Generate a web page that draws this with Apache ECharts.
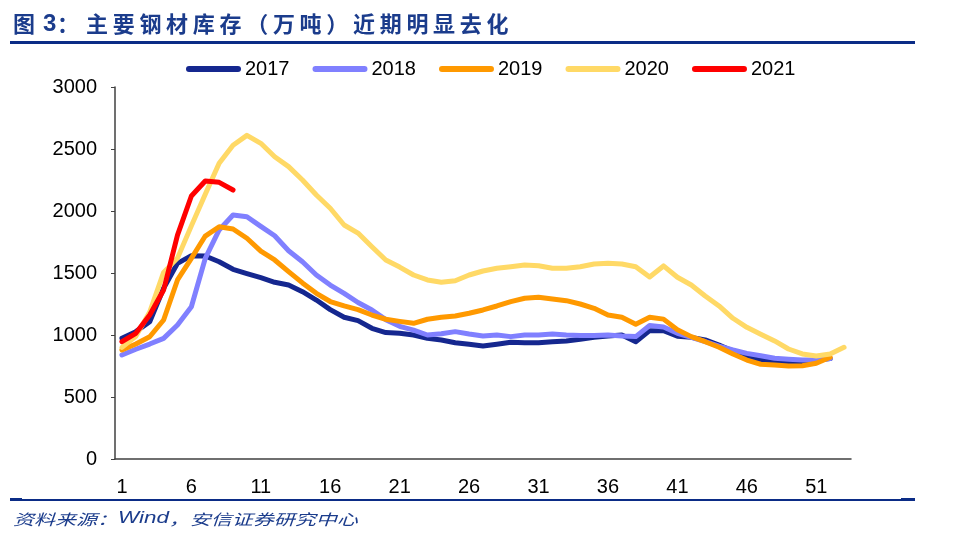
<!DOCTYPE html>
<html>
<head>
<meta charset="utf-8">
<script src="https://cdn.jsdelivr.net/npm/echarts@6/dist/echarts.min.js"></script>
<style>
html,body{margin:0;padding:0;background:#fff;}
#chart{width:956px;height:546px;}
</style>
</head>
<body>
<div id="chart"></div>
<script>
var weeks = [];
for (var w = 1; w <= 53; w++) weeks.push(String(w));

var y2017 = [973,1027,1107,1377,1578,1640,1637,1591,1530,1495,1462,1425,1403,1349,1282,1205,1143,1116,1054,1020,1014,1000,973,960,938,925,911,925,941,938,938,946,952,965,981,992,1000,946,1035,1035,990,981,960,919,871,825,798,785,780,785,798,810];
var y2018 = [839,885,927,973,1081,1228,1618,1847,1968,1954,1876,1800,1680,1591,1484,1403,1336,1262,1202,1124,1070,1040,1000,1010,1027,1008,992,1000,987,1000,1000,1008,1000,995,995,1000,992,987,1077,1064,1014,981,946,911,879,852,833,812,804,798,798,810];
var y2019 = [879,927,986,1121,1444,1618,1798,1873,1855,1780,1676,1605,1511,1420,1336,1270,1235,1205,1161,1127,1110,1094,1127,1143,1153,1175,1202,1234,1269,1296,1304,1290,1277,1250,1215,1161,1143,1086,1143,1128,1043,987,946,901,847,798,764,758,750,752,772,820];
var y2020 = [900,990,1185,1505,1620,1880,2135,2385,2530,2610,2546,2438,2358,2250,2129,2022,1887,1822,1712,1605,1548,1484,1444,1425,1438,1484,1516,1538,1551,1565,1559,1538,1538,1551,1573,1578,1573,1551,1468,1557,1466,1403,1315,1234,1135,1062,1006,952,887,847,831,847,901];
var y2021 = [946,1014,1161,1363,1806,2121,2242,2231,2169];

var seriesNames = ['2017','2018','2019','2020','2021'];
var seriesData = [y2017, y2018, y2019, y2020, y2021];
var colors = ['#15278F','#8080FF','#FF9900','#FFD966','#FF0000'];

var titleHead = ['图', '3', '：'];
var titleBody = '主要钢材库存（万吨）近期明显去化';
var sourceA = '资料来源：';
var sourceB = 'Wind';
var sourceC = '，安信证券研究中心';

var chart = echarts.init(document.getElementById('chart'));
var navy = '#1B3C8C';
var rule = '#0B2C86';

var graphics = [
  {type: 'rect', shape: {x: 10, y: 41, width: 905, height: 3}, style: {fill: rule}},
  {type: 'rect', shape: {x: 10, y: 499, width: 905, height: 2}, style: {fill: rule}},
  {type: 'rect', shape: {x: 10, y: 498, width: 12, height: 3}, style: {fill: rule}},
  {type: 'rect', shape: {x: 901, y: 498, width: 14, height: 3}, style: {fill: rule}},
  {type: 'text', x: 13, y: 519, scaleX: 1.4,
   style: {
     text: '{a|' + sourceA + '}{b|' + sourceB + '}{a|' + sourceC + '}',
     verticalAlign: 'middle',
     rich: {
       a: {fontFamily: 'Noto Sans CJK SC', fontStyle: 'italic', fontSize: 15, fill: navy},
       b: {fontFamily: 'Liberation Sans', fontStyle: 'italic', fontSize: 16, fill: navy}
     }
   }}
];
// title, drawn character by character for the wide letter spacing
var headX = [13, 43, 57];
titleHead.forEach(function (ch, i) {
  graphics.push({type: 'text', x: headX[i], y: 24,
    style: {text: ch, verticalAlign: 'middle', fill: navy, fontWeight: 'bold',
      fontFamily: i === 1 ? 'Liberation Sans' : 'Noto Sans CJK SC', fontSize: i === 1 ? 24 : 22}});
});
Array.from(titleBody).forEach(function (ch, i) {
  graphics.push({type: 'text', x: 86 + i * 26.7, y: 24,
    style: {text: ch, verticalAlign: 'middle', fill: navy, fontWeight: 'bold',
      fontFamily: 'Noto Sans CJK SC', fontSize: 22}});
});

var legendIcon = 'path://M3,0 L52,0 A3,3 0 0 1 52,6 L3,6 A3,3 0 0 1 3,0 Z';

var option = {
  animation: false,
  backgroundColor: '#fff',
  color: colors,
  legend: {
    left: 186, top: 59,
    itemWidth: 55, itemHeight: 6, itemGap: 23,
    padding: 0,
    icon: legendIcon,
    textStyle: {fontFamily: 'Liberation Sans', fontSize: 20, color: '#000', padding: [0,0,0,-1]},
    data: seriesNames
  },
  grid: {left: 115, right: 105, top: 87, bottom: 87},
  xAxis: {
    type: 'category',
    data: weeks,
    boundaryGap: true,
    axisLine: {lineStyle: {color: '#404040', width: 1.5}},
    axisTick: {inside: true, length: 6, interval: 4, lineStyle: {color: '#404040', width: 1}},
    axisLabel: {interval: 4, margin: 18, fontFamily: 'Liberation Sans', fontSize: 20, color: '#000'},
    splitLine: {show: false}
  },
  yAxis: {
    type: 'value',
    min: 0, max: 3000, interval: 500,
    axisLine: {show: true, lineStyle: {color: '#404040', width: 1.5}},
    axisTick: {show: true, inside: false, length: 4, lineStyle: {color: '#404040', width: 1}},
    axisLabel: {margin: 18, fontFamily: 'Liberation Sans', fontSize: 20, color: '#000',
      formatter: function (v) { return String(v); }},
    splitLine: {show: false}
  },
  graphic: graphics,
  series: seriesNames.map(function (n, i) {
    return {
      name: n,
      type: 'line',
      data: seriesData[i],
      symbol: 'none',
      showSymbol: false,
      lineStyle: {width: 5, color: colors[i], cap: 'round', join: 'round'},
      itemStyle: {color: colors[i]},
      emphasis: {disabled: true}
    };
  })
};
chart.setOption(option);
</script>
</body>
</html>
